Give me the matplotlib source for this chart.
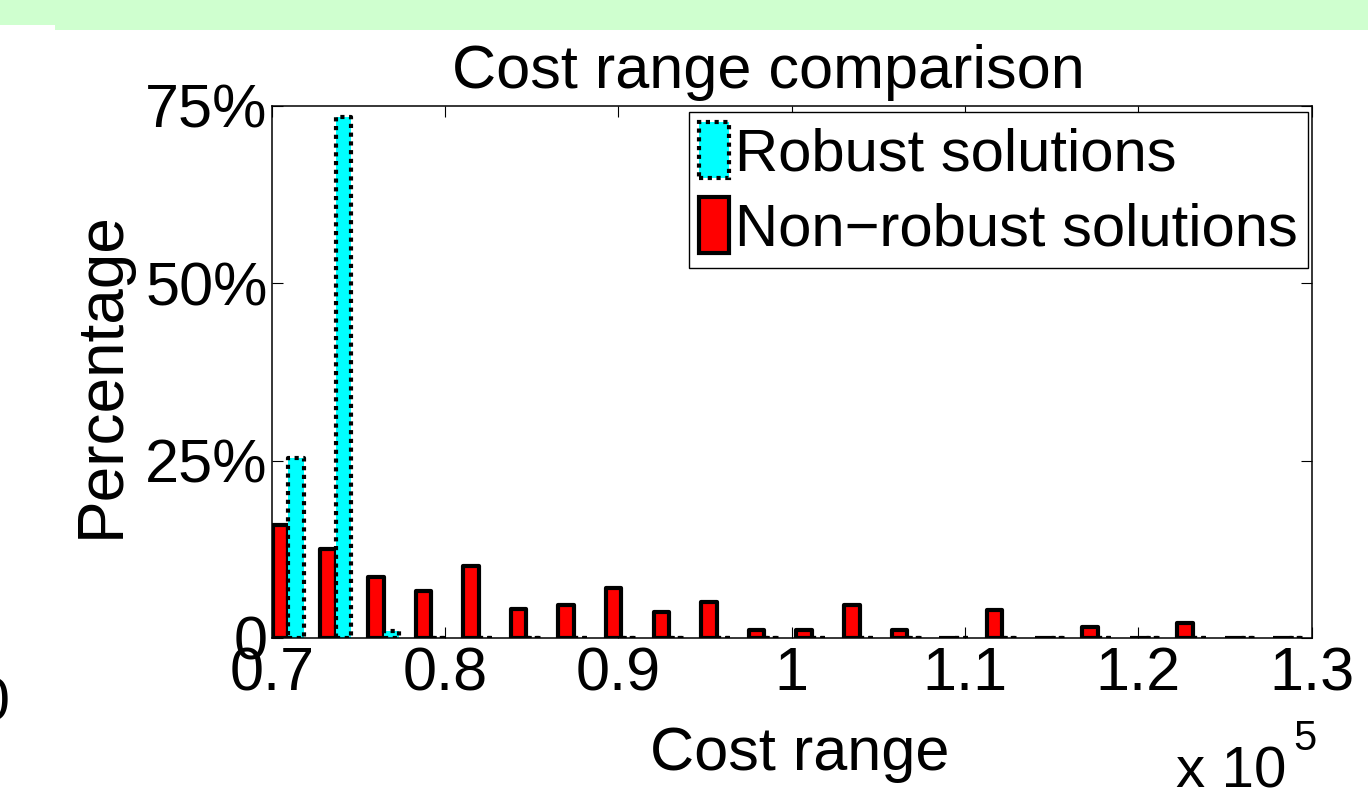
import numpy as np
import matplotlib.pyplot as plt
from matplotlib.patches import Rectangle, Patch

# bin centres (x 10^5) and percentages
bin_centers = [0.7096, 0.7370, 0.7645, 0.7920, 0.8194, 0.8469, 0.8744, 0.9018,
               0.9293, 0.9568, 0.9843, 1.0117, 1.0392, 1.0667, 1.0941, 1.1216,
               1.1491, 1.1765, 1.2040, 1.2315, 1.2589, 1.2864]
non_robust = [16.0, 12.5, 8.6, 6.6, 10.1, 4.1, 4.6, 7.1, 3.6, 5.1, 1.1,
              1.1, 4.6, 1.1, 0.0, 4.0, 0.0, 1.6, 0.0, 2.1, 0.0, 0.0]
robust = [25.4, 73.4, 1.0, 0.0, 0.0, 0.0, 0.0, 0.0, 0.0, 0.0, 0.0,
          0.0, 0.0, 0.0, 0.0, 0.0, 0.0, 0.0, 0.0, 0.0, 0.0, 0.0]
xticks = [0.7, 0.8, 0.9, 1.0, 1.1, 1.2, 1.3]
xticklabels = ['0.7', '0.8', '0.9', '1', '1.1', '1.2', '1.3']
yticks = [0, 25, 50, 75]
yticklabels = ['0', '25%', '50%', '75%']
labels = ['Robust solutions', 'Non\u2212robust solutions']

plt.rcParams['font.family'] = ['Liberation Sans', 'DejaVu Sans']

W, H = 1368., 790.
fig = plt.figure(figsize=(W / 100, H / 100), dpi=100)

# light green band along the top
fig.patches.append(Rectangle((0, 1 - 25 / H), 55 / W, 25 / H, transform=fig.transFigure,
                             fc='#cfffcf', ec='none', zorder=0))
fig.patches.append(Rectangle((55 / W, 1 - 30 / H), 1 - 55 / W, 30 / H, transform=fig.transFigure,
                             fc='#cfffcf', ec='none', zorder=0))

ax = fig.add_axes([271.7 / W, 1 - 638 / H, 1040 / W, 532 / H])

x = np.array(bin_centers)
bw = 0.00894
dots = (0, (1, 1.1))
red = ax.bar(x - bw / 2, non_robust, width=bw, color='#ff0000', edgecolor='black',
             linewidth=3, zorder=2)
cyan = ax.bar(x + bw / 2, robust, width=bw, color='#00ffff', edgecolor='black',
              linewidth=3, linestyle=dots, zorder=2)
for p in list(red) + list(cyan):
    p.set_joinstyle('round')

ax.set_xlim(0.7, 1.3)
ax.set_ylim(0, 75)
ax.set_xticks(xticks)
ax.set_xticklabels(xticklabels)
ax.set_yticks(yticks)
ax.set_yticklabels(yticklabels)
ax.tick_params(direction='in', length=8, width=0.8, top=True, right=True,
               labelsize=44, pad=3)
ax.tick_params(axis='x', pad=6)
for s in ax.spines.values():
    s.set_linewidth(1.1)

handles = [Patch(fc='#00ffff', ec='black', lw=3, ls=dots),
           Patch(fc='#ff0000', ec='black', lw=3)]
leg = fig.legend(handles, labels, loc='upper right',
                 bbox_to_anchor=(1308 / W, 1 - 112 / H), fontsize=43,
                 handlelength=0.5, handleheight=1.07, handletextpad=0.1,
                 borderpad=0.17, labelspacing=0.24, borderaxespad=0,
                 fancybox=False, framealpha=1)
leg.get_frame().set_edgecolor('black')
leg.get_frame().set_linewidth(1.0)

fig.text(768 / W, 1 - 88 / H, 'Cost range comparison', fontsize=44,
         ha='center', va='baseline')
fig.text(800 / W, 1 - 770 / H, 'Cost range', fontsize=44, ha='center', va='baseline')
fig.text(102 / W, 1 - 375 / H, 'Percentage', fontsize=46, rotation=90,
         ha='center', va='center')
fig.text(1176 / W, 1 - 787 / H, 'x 10', fontsize=42, ha='left', va='baseline')
fig.text(1293 / W, 1 - 750 / H, '5', fontsize=30, ha='left', va='baseline')
# partial glyph of a neighbouring panel on the left edge
fig.text(10 / W, 1 - 705 / H, '0', fontsize=44, ha='right', va='center')

fig.savefig('out.png', dpi=100)
